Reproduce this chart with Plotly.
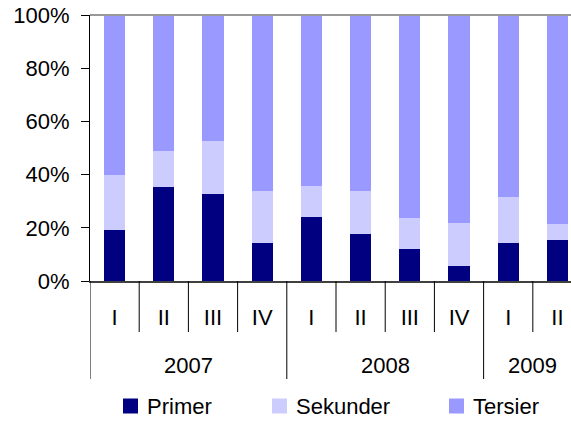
import plotly.graph_objects as go

# Quarterly share of each sector (percent of total)
quarters = ["I", "II", "III", "IV", "I", "II", "III", "IV", "I", "II"]
years = ["2007", "2008", "2009"]
year_quarter_counts = [4, 4, 2]
primer = [19.2, 35.3, 32.7, 14.3, 24.1, 17.7, 12.0, 5.6, 14.3, 15.4]
sekunder = [20.6, 13.6, 19.9, 19.5, 11.6, 16.1, 11.7, 16.2, 17.3, 6.0]
tersier = [100 - p - s for p, s in zip(primer, sekunder)]
y_ticks = [0, 20, 40, 60, 80, 100]
y_tick_labels = ["0%", "20%", "40%", "60%", "80%", "100%"]

series = [
    ("Primer", primer, "#000080"),
    ("Sekunder", sekunder, "#CCCCFF"),
    ("Tersier", tersier, "#9999FF"),
]

x = list(range(len(quarters)))
FONT = "Liberation Sans, Arial, sans-serif"
FS = 22

# plot area in pixels
L, R, T, B = 90, 571, 15, 281
W, H = R - L, B - T


def px_x(px):
    return (px - L) / W


def px_y(py):
    return (B - py) / H


fig = go.Figure()
for name, vals, color in series:
    fig.add_trace(go.Bar(x=x, y=vals, name=name, marker_color=color,
                         marker_line_width=0, width=0.43, showlegend=False))

shapes = []
# top border of the plot area
shapes.append(dict(type="line", xref="paper", yref="paper", x0=0, x1=1, y0=1, y1=1,
                   line=dict(color="#999999", width=2)))
# category separators below the axis: short between quarters, long between years
short_y = px_y(332)
long_y = px_y(379)
year_starts = set()
pos = 0
for c in year_quarter_counts:
    year_starts.add(pos)
    pos += c
for i in range(len(quarters) + 1):
    y1 = long_y if i in year_starts or i == len(quarters) else short_y
    shapes.append(dict(type="line", xref="x", yref="paper", x0=i - 0.5, x1=i - 0.5,
                       y0=0, y1=y1, line=dict(color="#000000", width=1)))

annotations = []
pos = 0
for yr, c in zip(years, year_quarter_counts):
    annotations.append(dict(x=pos + (c - 1) / 2, y=px_y(365), xref="x", yref="paper",
                            text=yr, showarrow=False, font=dict(size=FS, color="black", family=FONT),
                            xanchor="center", yanchor="middle"))
    pos += c

# legend row: colour key square followed by the series name
legend_key_x = [123, 272, 449]
KEY = 15
LEG_Y = 406
for (name, _, color), kx in zip(series, legend_key_x):
    shapes.append(dict(type="rect", xref="paper", yref="paper",
                       x0=px_x(kx), x1=px_x(kx + KEY), y0=px_y(LEG_Y - KEY / 2), y1=px_y(LEG_Y + KEY / 2),
                       fillcolor=color, line=dict(width=0)))
    annotations.append(dict(x=px_x(kx + KEY + 7), y=px_y(LEG_Y), xref="paper", yref="paper",
                            text=name, showarrow=False, xanchor="left", yanchor="middle",
                            font=dict(size=FS, color="black", family=FONT)))

fig.update_layout(
    barmode="stack",
    width=571, height=421,
    margin=dict(l=L, r=571 - R, t=T, b=421 - B, autoexpand=False),
    paper_bgcolor="white", plot_bgcolor="white",
    font=dict(family=FONT, size=FS, color="black"),
    showlegend=False,
    xaxis=dict(range=[-0.5, 9.276], tickmode="array", tickvals=x, ticktext=quarters,
               showline=True, linecolor="#404040", linewidth=2, ticks="", showgrid=False,
               zeroline=False, ticklabelstandoff=16, tickfont=dict(size=FS), automargin=False),
    yaxis=dict(range=[0, 100], tickmode="array", tickvals=y_ticks, ticktext=y_tick_labels,
               showline=True, linecolor="#000000", linewidth=1, ticks="outside", ticklen=8,
               tickcolor="#000000", showgrid=False, zeroline=False, ticklabelstandoff=7,
               tickfont=dict(size=FS), automargin=False),
    shapes=shapes,
    annotations=annotations,
)

fig.write_html("out.html")
